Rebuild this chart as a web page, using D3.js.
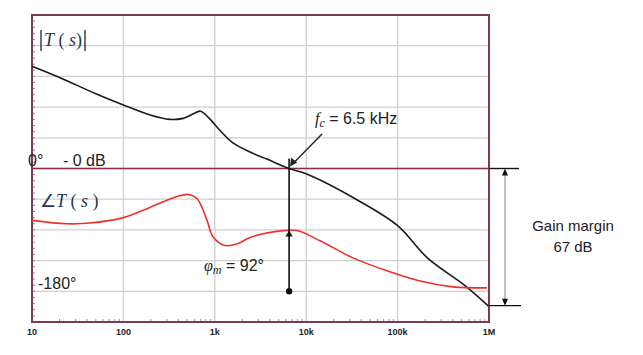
<!DOCTYPE html>
<html><head><meta charset="utf-8">
<script src="https://cdn.jsdelivr.net/npm/d3@7"></script>
<style>body{margin:0;background:#fff}svg{display:block}</style>
</head><body><svg id="c" width="643" height="355"></svg>
<script>
// Frequency ticks
const freqTicks = [10, 100, 1000, 10000, 100000, 1000000];
const freqTickLabels = ["10", "100", "1k", "10k", "100k", "1M"];
// Magnitude |T(s)| in dB
const magFreq = [10, 20, 50, 100, 200, 320, 450, 600, 700, 850, 1000, 1140, 1580, 2500, 3720, 6500, 10000, 32500, 100000, 210000, 546000, 975000];
const magDb   = [50, 44.5, 36.5, 31, 26, 24, 24.5, 27, 28, 25, 21.5, 18.6, 12.5, 7.8, 4.6, 0, -2.6, -14.2, -27.9, -43.5, -57.2, -67];
// Phase angle T(s) in degrees
const phFreq = [10, 24, 43, 100, 195, 386, 509, 638, 822, 955, 1300, 1800, 2430, 5570, 7930, 14200, 32500, 76500, 176000, 404000, 950000];
const phDeg  = [-76, -81, -80, -72, -57, -41, -38, -44, -76, -100, -113, -110, -101, -91, -91, -106, -131, -150, -165, -173.5, -175];
// Annotations
const fcHz = 6500;
const phaseMargin = 92;
const gainMargin = 67;

const svg = d3.select("#c");
const L = 32, R = 489, T = 15, B = 322;
const x = d3.scaleLog().domain([10, 1e6]).range([L, R]);
const yM = d3.scaleLinear().domain([-75, 75]).range([B, T]);   // 15 dB / div
const yP = d3.scaleLinear().domain([-225, 225]).range([B, T]); // 45 deg / div

// grid
const g = svg.append("g");
d3.range(-75, 76, 15).forEach(v => {
  g.append("line").attr("x1", L).attr("x2", R).attr("y1", yM(v)).attr("y2", yM(v))
   .attr("stroke", "#cfcfcf").attr("stroke-width", 1.3);
});
freqTicks.forEach(f => {
  g.append("line").attr("x1", x(f)).attr("x2", x(f)).attr("y1", T).attr("y2", B)
   .attr("stroke", "#cfcfcf").attr("stroke-width", 1.3);
});
// minor ticks bottom
const minor = [];
for (let d = 10; d < 1e6; d *= 10) for (let k = 2; k <= 9; k++) minor.push(d * k);
g.selectAll(".mt").data(minor).enter().append("line")
 .attr("x1", d => x(d)).attr("x2", d => x(d)).attr("y1", B).attr("y2", B - 3)
 .attr("stroke", "#999").attr("stroke-width", 1);
// minor ticks left
g.selectAll(".lt").data(d3.range(-75, 75, 3)).enter().append("line")
 .attr("x1", L).attr("x2", L + 3).attr("y1", d => yM(d)).attr("y2", d => yM(d))
 .attr("stroke", "#a07a8a").attr("stroke-width", 1);

// frame
svg.append("rect").attr("x", L).attr("y", T).attr("width", R - L).attr("height", B - T)
  .attr("fill", "none").attr("stroke", "#7d3a58").attr("stroke-width", 2);

// bottom tick labels
svg.selectAll(".tl").data(freqTicks).enter().append("text")
  .attr("x", d => x(d)).attr("y", 335).attr("text-anchor", "middle")
  .attr("font-family", "Liberation Sans, Arial, sans-serif").attr("font-size", 9).attr("font-weight", "bold")
  .attr("fill", "#222").text((d, i) => freqTickLabels[i]);

// 0 dB line
svg.append("line").attr("x1", L).attr("x2", R).attr("y1", yM(0)).attr("y2", yM(0))
  .attr("stroke", "#8a2a4c").attr("stroke-width", 1.6);

// curves
const lineM = d3.line().x((d, i) => x(magFreq[i])).y(d => yM(d)).curve(d3.curveCatmullRom.alpha(0.5));
svg.append("path").attr("d", lineM(magDb)).attr("fill", "none").attr("stroke", "#1a1a1a").attr("stroke-width", 1.6);
const lineP = d3.line().x((d, i) => x(phFreq[i])).y(d => yP(d)).curve(d3.curveCatmullRom.alpha(0.5));
svg.append("path").attr("d", lineP(phDeg)).attr("fill", "none").attr("stroke", "#f0302a").attr("stroke-width", 1.6);

// gain margin markers
const yTop = yM(0), yBot = yM(-gainMargin);
svg.append("line").attr("x1", R).attr("x2", 519).attr("y1", yTop).attr("y2", yTop).attr("stroke", "#111").attr("stroke-width", 1.4);
svg.append("line").attr("x1", R - 2).attr("x2", 521).attr("y1", yBot).attr("y2", yBot).attr("stroke", "#111").attr("stroke-width", 1.4);
svg.append("line").attr("x1", 505).attr("x2", 505).attr("y1", yTop + 4).attr("y2", yBot - 4).attr("stroke", "#999").attr("stroke-width", 1.2);
svg.append("path").attr("d", `M505,${yTop}l-3,7h6z`).attr("fill", "#111");
svg.append("path").attr("d", `M505,${yBot}l-3,-7h6z`).attr("fill", "#111");
const ft = "Liberation Sans, Arial, sans-serif";
svg.append("text").attr("x", 573).attr("y", 231).attr("text-anchor", "middle").attr("font-family", ft).attr("font-size", 15).attr("fill", "#222").text("Gain margin");
svg.append("text").attr("x", 573).attr("y", 252).attr("text-anchor", "middle").attr("font-family", ft).attr("font-size", 15).attr("fill", "#222").text(gainMargin + " dB");

// phase margin line
const xf = x(fcHz);
svg.append("line").attr("x1", xf).attr("x2", xf).attr("y1", yM(0) - 10).attr("y2", yP(-180)).attr("stroke", "#111").attr("stroke-width", 1.6);
svg.append("circle").attr("cx", xf).attr("cy", yP(-180)).attr("r", 3.2).attr("fill", "#111");
svg.append("path").attr("d", `M${xf},${yP(-180 + phaseMargin) + 2}l-3.5,6h7z`).attr("fill", "#111");

// fc arrow
svg.append("line").attr("x1", 322).attr("x2", xf + 4).attr("y1", 134).attr("y2", yM(0) - 5).attr("stroke", "#222").attr("stroke-width", 1.4);
svg.append("path").attr("d", `M${xf + 1},${yM(0) - 2}l1,-9l6,5z`).attr("fill", "#222");

// texts
const fcT = svg.append("text").attr("x", 315).attr("y", 124).attr("font-family", ft).attr("font-size", 16).attr("fill", "#222");
fcT.append("tspan").attr("font-family", "Liberation Serif, serif").attr("font-style", "italic").text("f");
fcT.append("tspan").attr("font-family", "Liberation Serif, serif").attr("font-style", "italic").attr("font-size", 12).attr("dy", 3).text("c");
fcT.append("tspan").attr("dy", -3).text(" = 6.5 kHz");

const pmT = svg.append("text").attr("x", 204).attr("y", 271).attr("font-family", ft).attr("font-size", 16).attr("fill", "#222");
pmT.append("tspan").attr("font-family", "Liberation Serif, serif").attr("font-style", "italic").text("φ");
pmT.append("tspan").attr("font-family", "Liberation Serif, serif").attr("font-style", "italic").attr("font-size", 12).attr("dy", 3).text("m");
pmT.append("tspan").attr("dy", -3).text(" = " + phaseMargin + "°");

svg.append("text").attr("x", 28).attr("y", 166).attr("font-family", ft).attr("font-size", 16).attr("fill", "#222").text("0°");
svg.append("text").attr("x", 63).attr("y", 166).attr("font-family", ft).attr("font-size", 16).attr("fill", "#222").text("- 0 dB");
svg.append("text").attr("x", 38).attr("y", 289).attr("font-family", ft).attr("font-size", 16).attr("fill", "#222").text("-180°");

// |T(s)|
svg.append("line").attr("x1", 41).attr("x2", 41).attr("y1", 30).attr("y2", 51).attr("stroke", "#222").attr("stroke-width", 1.3);
svg.append("line").attr("x1", 85).attr("x2", 85).attr("y1", 30).attr("y2", 51).attr("stroke", "#222").attr("stroke-width", 1.3);
svg.append("text").attr("x", 44).attr("y", 46).attr("font-family", "Liberation Serif, serif").attr("font-size", 18).attr("fill", "#2a3550")
  .html('<tspan font-style="italic">T</tspan> ( <tspan font-style="italic">s</tspan>)');
svg.append("text").attr("x", 40).attr("y", 207).attr("font-family", "Liberation Serif, serif").attr("font-size", 18).attr("fill", "#2a3550")
  .html('∠<tspan font-style="italic">T</tspan> ( <tspan font-style="italic">s</tspan> )');
</script></body></html>
